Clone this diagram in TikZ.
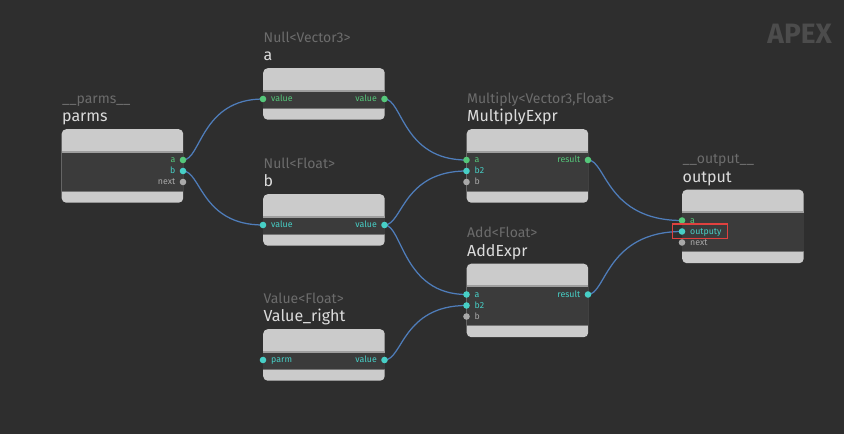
\documentclass[tikz,border=0pt]{standalone}
\usepackage{fontspec}
\setmainfont{Fira Sans}
\usetikzlibrary{backgrounds,calc}
\definecolor{bgcol}{HTML}{2E2E2E}
\definecolor{boxlight}{HTML}{CBCBCB}
\definecolor{bandcol}{HTML}{3B3B3B}
\definecolor{sepcol}{HTML}{9E9E9E}
\definecolor{wirecol}{HTML}{4F7DBA}
\definecolor{pgreen}{HTML}{55C77A}
\definecolor{pcyan}{HTML}{47CFC6}
\definecolor{pgray}{HTML}{A9A9A9}
\definecolor{subcol}{HTML}{6C6C6C}
\definecolor{titlecol}{HTML}{DCDCDC}
\definecolor{apexcol}{HTML}{4C4C4C}
\definecolor{redbox}{HTML}{E0413F}
\tikzset{
 boxshape/.style={rectangle, rounded corners=4.5pt, fill=boxlight, inner sep=0pt, minimum width=121.5pt, anchor=north west},
 subtext/.style={anchor=base west, inner sep=0pt, text=subcol, font=\fontsize{14}{14}\selectfont},
 titletext/.style={anchor=base west, inner sep=0pt, text=titlecol, font=\fontsize{16}{16}\selectfont},
 portdot/.style={circle, inner sep=0pt, minimum size=6.6pt, fill=#1},
 portlabel/.style={inner sep=0pt, text=#1, font=\fontsize{8.8}{8.8}\selectfont},
 wire/.style={draw=wirecol, line width=1.25pt},
}
\newcommand\apexbox[6]{%
 \pgfmathsetmacro\apexH{51.5+11*(#4-1)}%
 \node[boxshape, minimum height=\apexH pt] (#1) at (#2,#3) {};
 \fill[sepcol] (#2,#3+21.8) rectangle (#2+121.5,#3+23.5);
 \fill[bandcol] (#2,#3+23.5) rectangle (#2+121.5,#3+\apexH-12);
 \fill[sepcol!60!bandcol] (#2,#3+\apexH-12) rectangle (#2+121.5,#3+\apexH-11);
 \node[subtext] (#1-sub) at (#2+0.5,#3-26) {#5};
 \node[titletext] (#1-title) at (#2+0.5,#3-7.5) {#6};
}
\newcommand\apexportL[5]{%
 \node[portdot=#4] (#1) at (#2,#3) {};
 \node[portlabel=#4, anchor=mid west] (#1-lbl) at (#2+8,#3) {#5};
}
\newcommand\apexportR[5]{%
 \node[portdot=#4] (#1) at (#2,#3) {};
 \node[portlabel=#4, anchor=mid east] (#1-lbl) at (#2-7.5,#3) {#5};
}
\newcommand\apexwire[2]{%
 \path (#1.center) ++(18,0) coordinate (apexc);
 \draw[wire] (#1.center) .. controls (apexc) and (apexc |- #2.center) .. (#2.center);
}
\begin{document}
\begin{tikzpicture}[x=1pt,y=-1pt]
\useasboundingbox (0,0) rectangle (844,434);
% nodes
\apexbox{parms}{61.5}{129}{3}{\_\_parms\_\_}{parms}
\apexportR{parms-a}{183}{160}{pgreen}{a}
\apexportR{parms-b}{183}{171}{pcyan}{b}
\apexportR{parms-next}{183}{182}{pgray}{next}

\apexbox{a}{263}{68}{1}{Null<Vector3>}{a}
\apexportL{a-in}{263}{99}{pgreen}{value}
\apexportR{a-out}{384.5}{99}{pgreen}{value}

\apexbox{b}{263}{194}{1}{Null<Float>}{b}
\apexportL{b-in}{263}{225}{pcyan}{value}
\apexportR{b-out}{384.5}{225}{pcyan}{value}

\apexbox{vr}{263}{329}{1}{Value<Float>}{Value\_right}
\apexportL{vr-in}{263}{360}{pcyan}{parm}
\apexportR{vr-out}{384.5}{360}{pcyan}{value}

\apexbox{m}{466.5}{129}{3}{Multiply<Vector3,Float>}{MultiplyExpr}
\apexportL{m-a}{466.5}{160}{pgreen}{a}
\apexportL{m-b2}{466.5}{171}{pcyan}{b2}
\apexportL{m-b}{466.5}{182}{pgray}{b}
\apexportR{m-res}{588}{160}{pgreen}{result}

\apexbox{ad}{466.5}{263.5}{3}{Add<Float>}{AddExpr}
\apexportL{ad-a}{466.5}{294.5}{pcyan}{a}
\apexportL{ad-b2}{466.5}{305.5}{pcyan}{b2}
\apexportL{ad-b}{466.5}{316.5}{pgray}{b}
\apexportR{ad-res}{588}{294.5}{pcyan}{result}

\apexbox{o}{682}{189.5}{3}{\_\_output\_\_}{output}
\apexportL{o-a}{682}{220.5}{pgreen}{a}
\apexportL{o-y}{682}{231.5}{pcyan}{outputy}
\apexportL{o-next}{682}{242.5}{pgray}{next}

\draw[redbox, line width=1.6pt] (672.5,224) rectangle (727.5,238.5);

\node[anchor=base east, inner sep=0pt, text=apexcol, font=\fontsize{28}{28}\selectfont\bfseries] (apex) at (832,43.3) {APEX};

\begin{scope}[on background layer]
\fill[bgcol] (0,0) rectangle (844,434);
\apexwire{parms-a}{a-in}
\apexwire{parms-b}{b-in}
\apexwire{a-out}{m-a}
\apexwire{b-out}{m-b2}
\apexwire{b-out}{ad-a}
\apexwire{vr-out}{ad-b2}
\apexwire{m-res}{o-a}
\apexwire{ad-res}{o-y}
\end{scope}
\end{tikzpicture}
\end{document}
